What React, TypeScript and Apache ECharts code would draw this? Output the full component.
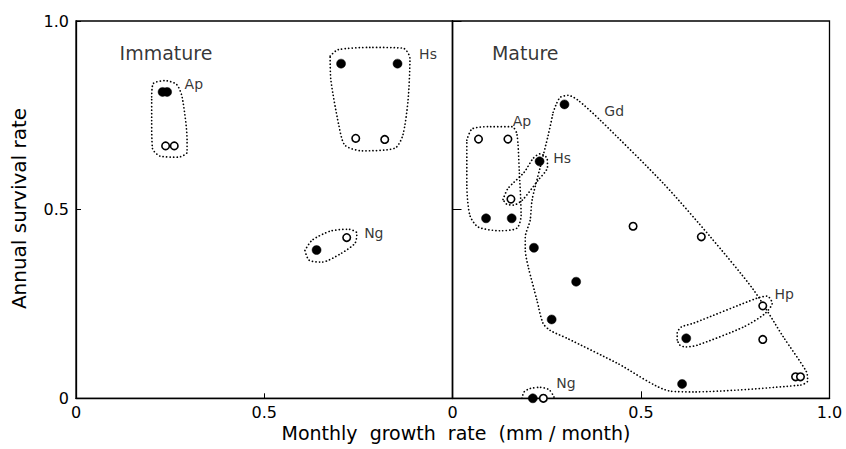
import React, { useEffect, useRef } from "react";
import * as echarts from "echarts";

// ---- data (x: monthly growth rate, y: annual survival rate) ----
const immatureFilled: number[][] = [
  [0.230, 0.812], [0.242, 0.812],
  [0.704, 0.887], [0.854, 0.887],
  [0.639, 0.393],
];
const immatureOpen: number[][] = [
  [0.238, 0.669], [0.261, 0.669],
  [0.743, 0.689], [0.820, 0.686],
  [0.719, 0.426],
];
const matureFilled: number[][] = [
  [0.297, 0.779], [0.231, 0.628], [0.089, 0.477], [0.157, 0.477],
  [0.216, 0.399], [0.328, 0.309], [0.263, 0.209], [0.620, 0.159],
  [0.609, 0.038], [0.213, 0.0],
];
const matureOpen: number[][] = [
  [0.069, 0.687], [0.147, 0.687], [0.155, 0.528], [0.479, 0.456],
  [0.660, 0.428], [0.823, 0.245], [0.823, 0.156], [0.910, 0.057],
  [0.923, 0.057], [0.241, 0.0],
];

// ---- group outlines (data coordinates) ----
const immApOutline: number[][] = [
  [0.201, 0.799], [0.205, 0.834], [0.236, 0.842], [0.267, 0.832], [0.282, 0.798],
  [0.295, 0.684], [0.295, 0.652], [0.271, 0.639], [0.223, 0.642], [0.203, 0.663],
  [0.201, 0.737], [0.201, 0.799],
];
const immHsOutline: number[][] = [
  [0.675, 0.907], [0.696, 0.924], [0.781, 0.930], [0.869, 0.928], [0.887, 0.901],
  [0.882, 0.790], [0.868, 0.697], [0.847, 0.663], [0.759, 0.656], [0.714, 0.671],
  [0.698, 0.724], [0.677, 0.843], [0.675, 0.907],
];
const immNgOutline: number[][] = [
  [0.608, 0.392], [0.627, 0.419], [0.675, 0.443], [0.723, 0.448], [0.746, 0.438],
  [0.741, 0.411], [0.701, 0.382], [0.653, 0.361], [0.619, 0.366], [0.608, 0.392],
];
const matApOutline: number[][] = [
  [0.038, 0.684], [0.052, 0.714], [0.100, 0.720], [0.158, 0.720], [0.171, 0.700],
  [0.177, 0.605], [0.182, 0.485], [0.171, 0.451], [0.126, 0.444], [0.068, 0.454],
  [0.046, 0.485], [0.038, 0.565], [0.038, 0.684],
];
const matHsOutline: number[][] = [
  [0.134, 0.527], [0.147, 0.556], [0.190, 0.599], [0.214, 0.636], [0.232, 0.648],
  [0.251, 0.636], [0.252, 0.613], [0.227, 0.578], [0.185, 0.525], [0.161, 0.512],
  [0.143, 0.515], [0.134, 0.527],
];
const matGdOutline: number[][] = [
  [0.267, 0.758], [0.275, 0.779], [0.286, 0.798], [0.307, 0.803], [0.333, 0.790],
  [0.392, 0.737], [0.559, 0.570], [0.684, 0.428], [0.798, 0.288], [0.878, 0.162],
  [0.939, 0.070], [0.942, 0.046], [0.923, 0.035], [0.639, 0.017], [0.578, 0.019],
  [0.437, 0.093], [0.304, 0.159], [0.259, 0.180], [0.240, 0.199], [0.224, 0.260],
  [0.201, 0.348], [0.193, 0.393], [0.193, 0.427], [0.206, 0.472], [0.211, 0.525],
  [0.232, 0.610], [0.254, 0.698], [0.267, 0.758],
];
const matHpOutline: number[][] = [
  [0.596, 0.155], [0.596, 0.173], [0.607, 0.189], [0.639, 0.199], [0.809, 0.266],
  [0.835, 0.271], [0.848, 0.252], [0.827, 0.223], [0.772, 0.189], [0.650, 0.141],
  [0.619, 0.136], [0.603, 0.141], [0.596, 0.155],
];
const matNgOutline: number[][] = [
  [0.184, 0.0], [0.190, 0.017], [0.206, 0.026], [0.232, 0.029], [0.256, 0.023],
  [0.268, 0.006], [0.270, 0.0],
];

// ---- labels ----
const immatureLabels = [
  { name: "Immature", value: [0.239, 0.916], big: true },
  { name: "Ap", value: [0.313, 0.832] },
  { name: "Hs", value: [0.935, 0.912] },
  { name: "Ng", value: [0.791, 0.438] },
];
const matureLabels = [
  { name: "Mature", value: [0.193, 0.916], big: true },
  { name: "Ap", value: [0.184, 0.734] },
  { name: "Hs", value: [0.291, 0.636] },
  { name: "Gd", value: [0.429, 0.761] },
  { name: "Hp", value: [0.880, 0.276] },
  { name: "Ng", value: [0.301, 0.041] },
];

const xTicksLeft = ["0", "0.5", ""];
const xTicksRight = ["0", "0.5", "1.0"];
const yTicks = ["0", "0.5", "1.0"];

const FONT = "DejaVu Sans";
const INK = "#000";

function outline(data: number[][], idx: number) {
  return {
    type: "line",
    xAxisIndex: idx,
    yAxisIndex: idx,
    data,
    symbol: "none",
    smooth: 0.25,
    silent: true,
    z: 1,
    lineStyle: { color: "#000", width: 1.7, type: [0.1, 3.4], cap: "round" },
  };
}

function dots(data: number[][], idx: number, filled: boolean) {
  return {
    type: "scatter",
    xAxisIndex: idx,
    yAxisIndex: idx,
    data,
    symbol: "circle",
    symbolSize: filled ? 9 : 7.5,
    clip: false,
    z: 3,
    itemStyle: filled
      ? { color: "#000", borderColor: "#000", borderWidth: 0.5, opacity: 1 }
      : { color: "#fff", borderColor: "#000", borderWidth: 1.6, opacity: 1 },
  };
}

function labels(data: any[], idx: number) {
  return {
    type: "scatter",
    xAxisIndex: idx,
    yAxisIndex: idx,
    symbolSize: 0,
    silent: true,
    z: 4,
    itemStyle: { color: "#000" },
    label: {
      show: true,
      position: "inside",
      formatter: "{b}",
      color: INK,
      textBorderWidth: 0,
      textBorderColor: "transparent",
      fontFamily: FONT,
    },
    data: data.map((d) => ({
      name: d.name,
      value: d.value,
      label: {
        fontSize: d.big ? 19 : 14,
        color: INK,
        textBorderWidth: 0,
      },
    })),
  };
}

function idxOf(v: number) {
  return Math.round(v * 2);
}

export default function App() {
  const ref = useRef<HTMLDivElement>(null);
  useEffect(() => {
    if (!ref.current) return;
    const chart = echarts.init(ref.current, undefined, { renderer: "svg" });
    const axisLine = { show: true, lineStyle: { color: "#000", width: 1.3 } };
    const option: any = {
      animation: false,
      backgroundColor: "#fff",
      textStyle: { fontFamily: FONT },
      grid: [
        { left: 76, top: 21, width: 376.5, height: 377.3, show: true, borderColor: "#000", borderWidth: 1.3 },
        { left: 452.5, top: 21, width: 377, height: 377.3, show: true, borderColor: "#000", borderWidth: 1.3 },
      ],
      xAxis: [
        {
          gridIndex: 0, type: "value", min: 0, max: 1, interval: 0.5,
          axisLine, splitLine: { show: false },
          axisTick: { show: true, inside: true, length: 5, lineStyle: { color: "#000" } },
          axisLabel: { fontSize: 16, color: INK, margin: 6, fontFamily: FONT, formatter: (v: number) => xTicksLeft[idxOf(v)] },
        },
        {
          gridIndex: 1, type: "value", min: 0, max: 1, interval: 0.5,
          axisLine, splitLine: { show: false },
          axisTick: { show: true, inside: true, length: 7, lineStyle: { color: "#000" } },
          axisLabel: { fontSize: 16, color: INK, margin: 6, fontFamily: FONT, formatter: (v: number) => xTicksRight[idxOf(v)] },
        },
      ],
      yAxis: [
        {
          gridIndex: 0, type: "value", min: 0, max: 1, interval: 0.5,
          axisLine, splitLine: { show: false },
          axisTick: { show: true, inside: true, length: 5, lineStyle: { color: "#000" } },
          axisLabel: { fontSize: 16, color: INK, margin: 7, fontFamily: FONT, formatter: (v: number) => yTicks[idxOf(v)] },
        },
        {
          gridIndex: 1, type: "value", min: 0, max: 1, interval: 0.5,
          axisLine, splitLine: { show: false },
          axisTick: { show: true, inside: true, length: 9, lineStyle: { color: "#000" } },
          axisLabel: { show: false },
        },
      ],
      graphic: [
        {
          type: "text", x: 456, y: 433,
          style: { text: "Monthly  growth  rate  (mm / month)", fontSize: 19, fontFamily: FONT, fill: INK, textAlign: "center", textVerticalAlign: "middle" },
        },
        {
          type: "text", x: 19, y: 208.5, rotation: Math.PI / 2,
          style: { text: "Annual survival rate", fontSize: 20, fontFamily: FONT, fill: INK, textAlign: "center", textVerticalAlign: "middle" },
        },
      ],
      series: [
        outline(immApOutline, 0),
        outline(immHsOutline, 0),
        outline(immNgOutline, 0),
        outline(matApOutline, 1),
        outline(matHsOutline, 1),
        outline(matGdOutline, 1),
        outline(matHpOutline, 1),
        outline(matNgOutline, 1),
        dots(immatureFilled, 0, true),
        dots(immatureOpen, 0, false),
        dots(matureFilled, 1, true),
        dots(matureOpen, 1, false),
        labels(immatureLabels, 0),
        labels(matureLabels, 1),
      ],
    };
    chart.setOption(option);
    return () => chart.dispose();
  }, []);
  return (
    <div
      ref={ref}
      style={{ position: "fixed", left: 0, top: 0, width: 846, height: 449, background: "#fff" }}
    />
  );
}
